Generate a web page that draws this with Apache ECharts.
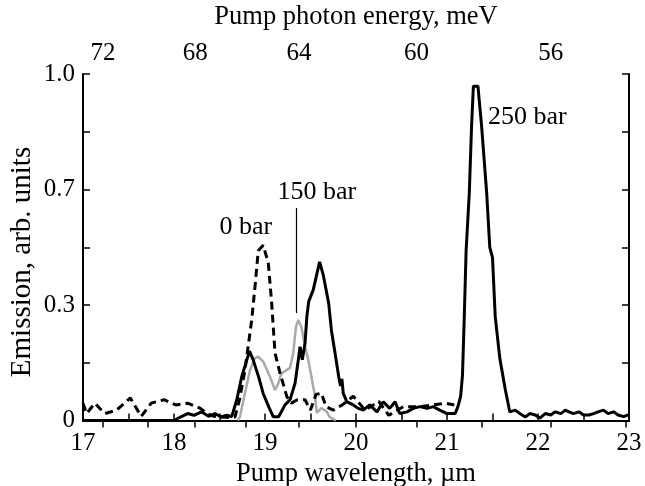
<!DOCTYPE html>
<html>
<head>
<meta charset="utf-8">
<script src="https://cdn.jsdelivr.net/npm/echarts@6/dist/echarts.min.js"></script>
<style>
html,body{margin:0;padding:0;background:#fff;}
#chart{width:645px;height:486px;}
</style>
</head>
<body>
<div id="chart"></div>
<script>
// ---- data ----
const HC = 1239.84; // meV * um
const energyTicks = [72, 70, 68, 66, 64, 62, 60, 58, 56, 54];
const energyLabels = [72, 68, 64, 60, 56];
const yTickLabels = ['0', '', '0.3', '', '0.7', '', '1.0'];

const bar0 = [
  [17.0,0.05],[17.04,0.02],[17.13,0.05],[17.24,0.02],[17.37,0.03],[17.52,0.065],[17.64,0.012],
  [17.75,0.05],[17.89,0.06],[18.02,0.045],[18.15,0.05],[18.29,0.035],[18.36,0.02],[18.44,0.012],
  [18.53,0.01],[18.62,0.008],[18.67,0.01],[18.72,0.06],[18.78,0.146],[18.854,0.29],[18.89,0.386],
  [18.926,0.49],[18.98,0.506],[19.036,0.455],[19.073,0.34],[19.11,0.195],[19.165,0.137],[19.24,0.069],
  [19.29,0.05],[19.35,0.059],[19.44,0.06],[19.5,0.03],[19.56,0.075],[19.62,0.079],[19.67,0.04],
  [19.75,0.03],[19.85,0.045],[19.97,0.07],[20.1,0.03],[20.25,0.055],[20.36,0.015],[20.52,0.04],
  [20.7,0.04],[20.85,0.045],[20.98,0.05],[21.08,0.045]
];
const bar150 = [
  [18.70,0],[18.725,0.011],[18.78,0.079],[18.835,0.146],[18.89,0.18],[18.926,0.184],[18.98,0.17],
  [19.055,0.126],[19.11,0.088],[19.146,0.107],[19.18,0.136],[19.24,0.146],[19.275,0.152],[19.31,0.194],
  [19.34,0.27],[19.366,0.29],[19.40,0.27],[19.44,0.213],[19.476,0.175],[19.51,0.126],[19.55,0.069],
  [19.57,0.022],[19.62,0.036],[19.68,0.025],[19.71,0.01],[19.78,0]
];
const bar250 = [
  [17.0,0],[17.5,0],[18.0,0],[18.07,0.01],[18.15,0.02],[18.22,0.015],[18.3,0.025],[18.38,0.012],
  [18.45,0.02],[18.52,0.01],[18.58,0.015],[18.634,0.011],[18.69,0.06],[18.744,0.126],[18.8,0.175],
  [18.83,0.2],[18.87,0.175],[18.93,0.126],[18.98,0.078],[19.04,0.04],[19.09,0.011],[19.15,0.011],
  [19.22,0.045],[19.275,0.06],[19.33,0.107],[19.366,0.175],[19.385,0.213],[19.41,0.175],[19.44,0.223],
  [19.46,0.30],[19.48,0.343],[19.53,0.377],[19.60,0.458],[19.64,0.42],[19.70,0.338],[19.73,0.26],
  [19.77,0.194],[19.81,0.126],[19.83,0.1],[19.845,0.12],[19.86,0.078],[19.90,0.054],[19.97,0.045],
  [20.025,0.035],[20.08,0.03],[20.15,0.045],[20.23,0.025],[20.30,0.054],[20.37,0.035],[20.43,0.054],
  [20.48,0.02],[20.56,0.025],[20.63,0.035],[20.70,0.04],[20.78,0.035],[20.85,0.04],[20.92,0.03],
  [21.0,0.02],[21.05,0.02],[21.09,0.02],[21.12,0.04],[21.15,0.07],[21.17,0.13],[21.19,0.30],
  [21.21,0.49],[21.245,0.657],[21.27,0.85],[21.29,0.965],[21.31,0.968],[21.34,0.965],[21.38,0.85],
  [21.436,0.657],[21.47,0.50],[21.50,0.47],[21.53,0.30],[21.58,0.18],[21.64,0.09],[21.69,0.025],
  [21.75,0.03],[21.80,0.02],[21.86,0.01],[21.91,0.02],[21.97,0.016],[22.02,0.007],[22.08,0.02],
  [22.14,0.016],[22.19,0.025],[22.25,0.02],[22.30,0.03],[22.34,0.025],[22.39,0.02],[22.45,0.025],
  [22.50,0.016],[22.56,0.016],[22.61,0.02],[22.66,0.025],[22.72,0.03],[22.77,0.02],[22.83,0.025],
  [22.88,0.016],[22.94,0.011],[22.99,0.016]
];
const annotations = [
  { text: '0 bar', at: [18.79, 0.558], align: 'center' },
  { text: '150 bar', at: [19.57, 0.659], align: 'center' },
  { text: '250 bar', at: [21.45, 0.876], align: 'left' }
];
const pointer150 = [[19.348, 0.31], [19.348, 0.613]];

// ---- chart ----
const FONT = '"Liberation Serif", "DejaVu Serif", serif';
const chart = echarts.init(document.getElementById('chart'), null, { renderer: 'canvas' });
const axisLine = { show: true, lineStyle: { color: '#000', width: 2 } };
const tick = { show: true, inside: true, length: 7, lineStyle: { color: '#000', width: 1.5 } };
const labelStyle = { color: '#000', fontFamily: FONT, fontSize: 25 };
const titleStyle = { color: '#000', fontFamily: FONT, fontSize: 26.5 };
const toLambda = e => HC / e;

const yTitle = {
  type: 'text', x: 22, y: 262, rotation: Math.PI / 2,
  style: { text: 'Emission, arb. units', fill: '#000', font: '29px ' + FONT, textAlign: 'center', textVerticalAlign: 'middle' }
};

chart.setOption({
  animation: false,
  backgroundColor: '#fff',
  grid: { left: 83, right: 16, top: 74, bottom: 65.5, containLabel: false, outerBoundsMode: 'none' },
  xAxis: [
    {
      type: 'value', position: 'bottom', min: 17, max: 23, interval: 0.5,
      axisLine, axisTick: tick, splitLine: { show: false },
      axisLabel: Object.assign({ margin: 10, formatter: v => (Math.abs(v - Math.round(v)) < 1e-6 ? String(Math.round(v)) : '') }, labelStyle),
      name: 'Pump wavelength, \u00b5m', nameLocation: 'middle', nameGap: 34,
      nameTextStyle: titleStyle
    },
    {
      type: 'value', position: 'top', min: 17, max: 23,
      axisLine,
      axisTick: Object.assign({ customValues: energyTicks.map(toLambda) }, tick),
      splitLine: { show: false },
      axisLabel: Object.assign({ margin: 8, customValues: energyLabels.map(toLambda), formatter: v => String(Math.round(HC / v)) }, labelStyle),
      name: 'Pump photon energy, meV', nameLocation: 'middle', nameGap: 43,
      nameTextStyle: titleStyle
    }
  ],
  yAxis: [
    {
      type: 'value', position: 'left', min: 0, max: 1, interval: 1 / 6,
      axisLine, axisTick: tick, splitLine: { show: false },
      axisLabel: Object.assign({ margin: 8, formatter: (v, i) => yTickLabels[Math.round(v * 6)] || '' }, labelStyle)
    },
    {
      type: 'value', position: 'right', min: 0, max: 1, interval: 1 / 6,
      axisLine, axisTick: tick, splitLine: { show: false }, axisLabel: { show: false }
    }
  ],
  series: [
    {
      name: '150 bar', type: 'line', data: bar150, showSymbol: false, symbol: 'none', z: 2,
      lineStyle: { color: '#aaaaaa', width: 2.5 },
      markLine: {
        silent: true, symbol: 'none', label: { show: false },
        lineStyle: { color: '#000', width: 1.2, type: 'solid' },
        data: [[{ coord: pointer150[0] }, { coord: pointer150[1] }]]
      }
    },
    {
      name: '0 bar', type: 'line', data: bar0, showSymbol: false, symbol: 'none', z: 3,
      lineStyle: { color: '#000', width: 3, type: [8, 5] }
    },
    {
      name: '250 bar', type: 'line', data: bar250, showSymbol: false, symbol: 'none', z: 4,
      lineStyle: { color: '#000', width: 3 }
    }
  ],
  graphic: [yTitle]
});

const annGraphics = annotations.map(a => {
  const p = chart.convertToPixel({ gridIndex: 0 }, a.at);
  return {
    type: 'text', x: p[0], y: p[1],
    style: { text: a.text, fill: '#000', font: '26px ' + FONT, textAlign: a.align, textVerticalAlign: 'middle' }
  };
});
chart.setOption({ graphic: [yTitle].concat(annGraphics) });
</script>
</body>
</html>
